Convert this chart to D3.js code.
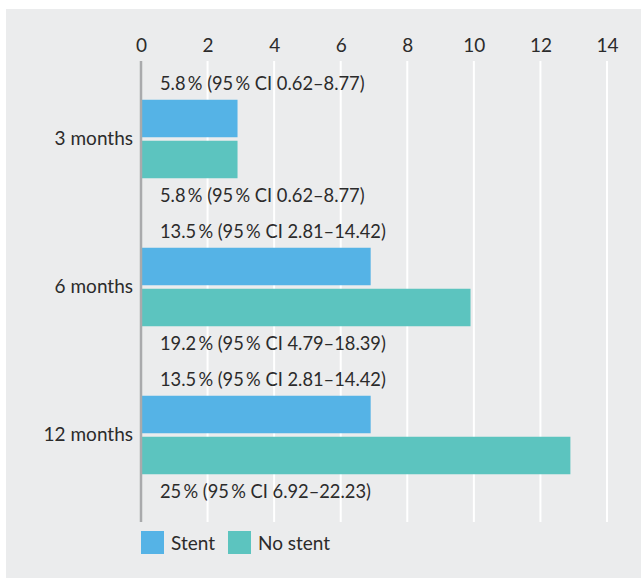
<!DOCTYPE html>
<html>
<head>
<meta charset="utf-8">
<script src="https://cdn.jsdelivr.net/npm/d3@7"></script>
<style>
  body { margin: 0; background: #fff; }
  text { font-family: Lato, "DejaVu Sans Condensed", "Noto Sans", sans-serif; fill: #2b2b2b; }
</style>
</head>
<body>
<div id="chart"></div>
<script>
// values
const categories = ["3 months", "6 months", "12 months"];
const series = ["Stent", "No stent"];
const stentValues = [2.9, 6.9, 6.9];
const noStentValues = [2.9, 9.9, 12.9];
const stentLabels = ["5.8\u2009% (95\u2009% CI 0.62–8.77)", "13.5\u2009% (95\u2009% CI 2.81–14.42)", "13.5\u2009% (95\u2009% CI 2.81–14.42)"];
const noStentLabels = ["5.8\u2009% (95\u2009% CI 0.62–8.77)", "19.2\u2009% (95\u2009% CI 4.79–18.39)", "25\u2009% (95\u2009% CI 6.92–22.23)"];
const xTicks = [0, 2, 4, 6, 8, 10, 12, 14];

const width = 641, height = 579;
const fontSize = 19, labelSize = 18.3;
const colors = { "Stent": "#55b3e6", "No stent": "#5cc4bf" };

const svg = d3.select("#chart")
    .append("svg")
    .attr("width", width)
    .attr("height", height);

// grey panel
svg.append("rect")
    .attr("x", 6).attr("y", 9)
    .attr("width", width - 6).attr("height", 569)
    .attr("fill", "#ebeced");

const x = d3.scaleLinear().domain([0, 14]).range([141, 607]);
const y = d3.scaleBand().domain(categories).range([65, 509]);
const gridTop = 61, gridBottom = 522;
const barH = 37.5, gap = 3.5;

// gridlines
svg.selectAll(".grid")
    .data(xTicks.filter(d => d > 0))
    .enter().append("line")
    .attr("class", "grid")
    .attr("x1", d => x(d)).attr("x2", d => x(d))
    .attr("y1", gridTop).attr("y2", gridBottom)
    .attr("stroke", "#fff")
    .attr("stroke-width", 2);

// top axis labels
const xAxis = svg.append("g")
    .attr("transform", "translate(0," + gridTop + ")")
    .call(d3.axisTop(x).tickValues(xTicks).tickSize(0).tickPadding(9));
xAxis.select(".domain").remove();
xAxis.attr("font-family", null).attr("font-size", null);
xAxis.selectAll("text").attr("font-size", fontSize);

// bars
const rows = categories.map((c, i) => ({ cat: c, stent: stentValues[i], noStent: noStentValues[i], sl: stentLabels[i], nl: noStentLabels[i] }));

svg.selectAll(".bar-stent")
    .data(rows)
    .enter().append("rect")
    .attr("class", "bar-stent")
    .attr("x", x(0))
    .attr("y", d => y(d.cat) + y.bandwidth() / 2 - gap / 2 - barH)
    .attr("width", d => x(d.stent) - x(0))
    .attr("height", barH)
    .attr("fill", colors["Stent"]);

svg.selectAll(".bar-nostent")
    .data(rows)
    .enter().append("rect")
    .attr("class", "bar-nostent")
    .attr("x", x(0))
    .attr("y", d => y(d.cat) + y.bandwidth() / 2 + gap / 2)
    .attr("width", d => x(d.noStent) - x(0))
    .attr("height", barH)
    .attr("fill", colors["No stent"]);

// value labels
svg.selectAll(".lab-stent")
    .data(rows)
    .enter().append("text")
    .attr("class", "lab-stent")
    .attr("x", x(0) + 19)
    .attr("y", d => y(d.cat) + y.bandwidth() / 2 - gap / 2 - barH - 10)
    .attr("font-size", labelSize)
    .text(d => d.sl);

svg.selectAll(".lab-nostent")
    .data(rows)
    .enter().append("text")
    .attr("class", "lab-nostent")
    .attr("x", x(0) + 19)
    .attr("y", d => y(d.cat) + y.bandwidth() / 2 + gap / 2 + barH + 24)
    .attr("font-size", labelSize)
    .text(d => d.nl);

// category labels
svg.selectAll(".cat")
    .data(categories)
    .enter().append("text")
    .attr("class", "cat")
    .attr("x", 133)
    .attr("y", d => y(d) + y.bandwidth() / 2)
    .attr("dy", "0.32em")
    .attr("text-anchor", "end")
    .attr("font-size", fontSize)
    .text(d => d);

// zero axis line
svg.append("line")
    .attr("x1", x(0)).attr("x2", x(0))
    .attr("y1", gridTop).attr("y2", gridBottom)
    .attr("stroke", "#a9aaac")
    .attr("stroke-width", 2.5);

// legend
const legendX = [141, 228];
const legend = svg.selectAll(".legend")
    .data(series)
    .enter().append("g")
    .attr("class", "legend")
    .attr("transform", (d, i) => "translate(" + legendX[i] + ",531)");
legend.append("rect")
    .attr("width", 23).attr("height", 23)
    .attr("fill", d => colors[d]);
legend.append("text")
    .attr("x", 30).attr("y", 12)
    .attr("dy", "0.35em")
    .attr("font-size", fontSize)
    .text(d => d);
</script>
</body>
</html>
